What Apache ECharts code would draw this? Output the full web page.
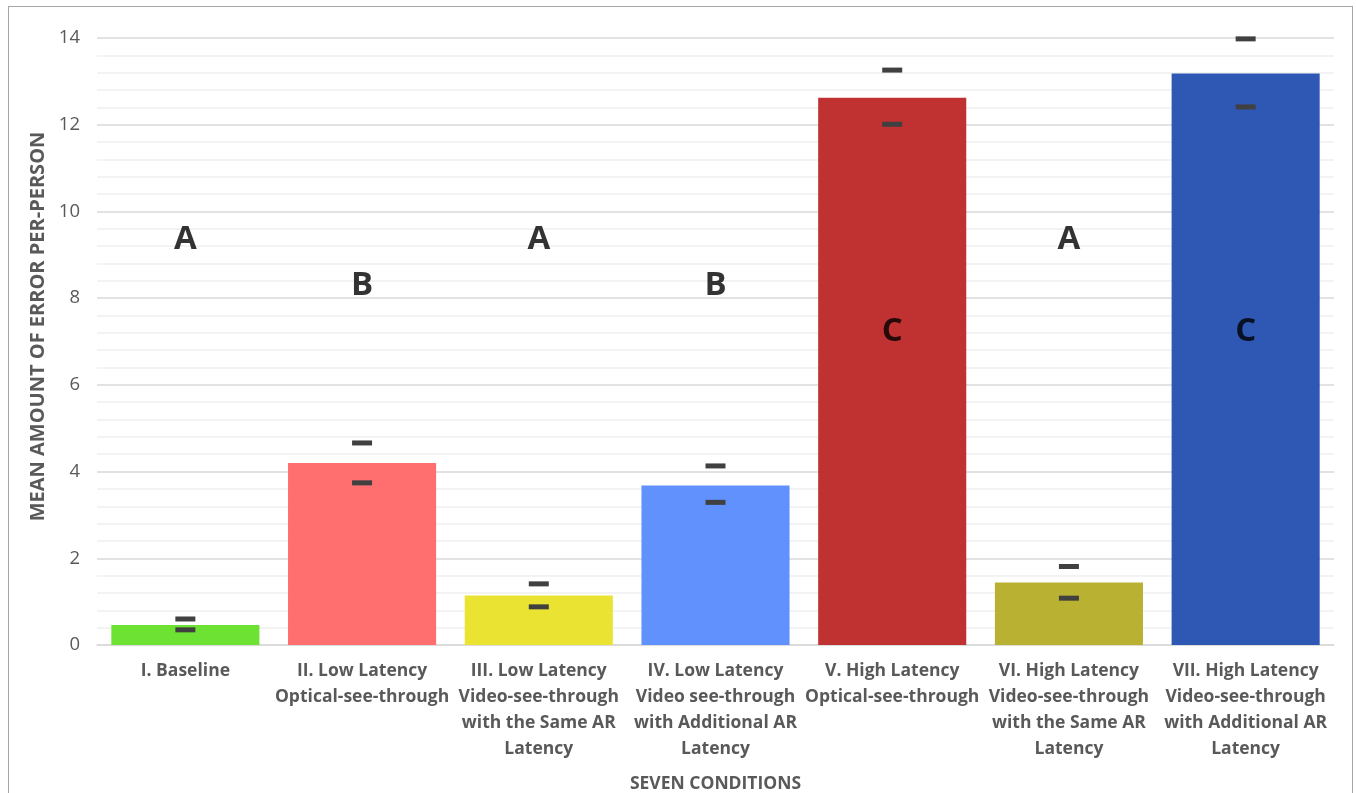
<!DOCTYPE html>
<html>
<head>
<meta charset="utf-8">
<script src="https://cdn.jsdelivr.net/npm/echarts@6/dist/echarts.min.js"></script>
<style>
html,body{margin:0;padding:0;background:#fff;width:1356px;height:793px;overflow:hidden;}
#frame{position:absolute;left:8px;top:6px;width:1345px;height:820px;border:1px solid #a6a6a6;box-sizing:border-box;}
#chart{position:absolute;left:0;top:0;width:1356px;height:793px;}
</style>
</head>
<body>
<div id="frame"></div>
<div id="chart"></div>
<script>
const categories = [
  'I. Baseline',
  'II. Low Latency\nOptical-see-through',
  'III. Low Latency\nVideo-see-through\nwith the Same AR\nLatency',
  'IV. Low Latency\nVideo see-through\nwith Additional AR\nLatency',
  'V. High Latency\nOptical-see-through',
  'VI. High Latency\nVideo-see-through\nwith the Same AR\nLatency',
  'VII. High Latency\nVideo-see-through\nwith Additional AR\nLatency'
];
const meanValues = [0.46, 4.20, 1.14, 3.68, 12.62, 1.44, 13.18];
const errHigh = [0.60, 4.66, 1.41, 4.13, 13.26, 1.81, 13.98];
const errLow = [0.35, 3.74, 0.88, 3.29, 12.01, 1.08, 12.41];
const groupLetters = ['A', 'B', 'A', 'B', 'C', 'A', 'C'];
const letterY = [9.36, 8.30, 9.36, 8.30, 7.23, 9.36, 7.23];
const barColors = ['#6de232', '#ff6f6f', '#ebe332', '#6191fd', '#c03132', '#b8b132', '#2f58b5'];
const yTicks = [0, 2, 4, 6, 8, 10, 12, 14];

const chart = echarts.init(document.getElementById('chart'));
const font = '"Open Sans", "Noto Sans", sans-serif';
chart.setOption({
  animation: false,
  grid: {left: 97, width: 1237, top: 38, height: 607, outerBoundsMode: 'none', containLabel: false},
  xAxis: {
    type: 'category',
    data: categories,
    name: 'SEVEN CONDITIONS',
    nameLocation: 'middle',
    nameGap: 130,
    nameTextStyle: {fontFamily: font, fontWeight: 'bold', fontSize: 17.5, color: '#595959'},
    axisLine: {lineStyle: {color: '#d9d9d9', width: 1.5}},
    axisTick: {show: false},
    axisLabel: {interval: 0, margin: 13, fontFamily: font, fontWeight: 'bold', fontSize: 17.5, lineHeight: 26, color: '#595959'}
  },
  yAxis: {
    type: 'value',
    min: yTicks[0],
    max: yTicks[yTicks.length - 1],
    interval: 2,
    name: 'MEAN AMOUNT OF ERROR PER-PERSON',
    nameLocation: 'middle',
    nameGap: 49,
    nameTextStyle: {fontFamily: font, fontWeight: 'bold', fontSize: 20, color: '#595959', padding: [0, 0, 0, 30]},
    axisLine: {show: false},
    axisTick: {show: false},
    axisLabel: {margin: 17, fontFamily: font, fontSize: 18.5, color: '#595959'},
    splitLine: {lineStyle: {color: '#d9d9d9', width: 1.5}},
    minorTick: {show: false, splitNumber: 5},
    minorSplitLine: {show: true, lineStyle: {color: '#efefef', width: 1.5}}
  },
  series: [
    {
      type: 'bar',
      barCategoryGap: '16.2%',
      data: meanValues.map((v, i) => ({value: v, itemStyle: {color: barColors[i]}})),
      z: 2
    },
    {
      type: 'scatter',
      symbol: 'rect',
      symbolSize: [20, 5],
      itemStyle: {color: '#404040', opacity: 1},
      data: errHigh.map((v, i) => [i, v]),
      z: 5
    },
    {
      type: 'scatter',
      symbol: 'rect',
      symbolSize: [20, 5],
      itemStyle: {color: '#404040', opacity: 1},
      data: errLow.map((v, i) => [i, v]),
      z: 5
    },
    {
      type: 'scatter',
      symbolSize: 0,
      data: letterY.map((v, i) => [i, v]),
      label: {
        show: true,
        position: 'inside',
        formatter: p => groupLetters[p.dataIndex],
        fontFamily: font,
        fontWeight: 'bold',
        fontSize: 33,
        color: '#000'
      },
      z: 6
    }
  ]
});
</script>
</body>
</html>
